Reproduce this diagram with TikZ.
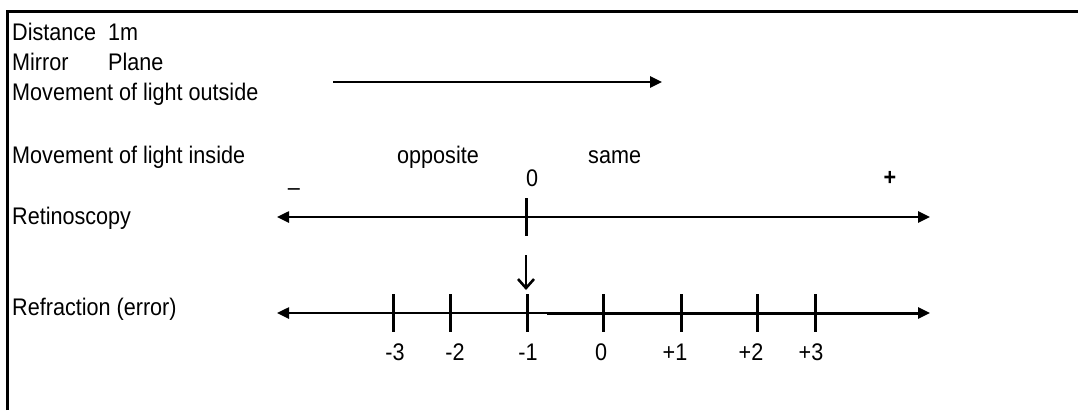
\documentclass[tikz,border=0pt]{standalone}
\usepackage{fontspec}
\setmainfont{Liberation Sans}
\newfontfamily\reffont{Liberation Sans}[FakeStretch=0.9]
\usetikzlibrary{arrows.meta}
\begin{document}
\begin{tikzpicture}[x=1pt,y=-1pt,
  lbl/.style={inner sep=0pt,anchor=base west,font=\reffont\fontsize{24}{28}\selectfont},
  num/.style={inner sep=0pt,anchor=base,font=\reffont\fontsize{24}{28}\selectfont},
  tri/.tip={Triangle[length=12pt,width=11pt]},
  axisline/.style={line width=2.5pt},
  tickline/.style={line width=3pt},
  frameline/.style={line width=3pt}]
\useasboundingbox (0,0) rectangle (1078,410);
% frame
\coordinate (fb) at (7,410);
\coordinate (fc) at (7,11);
\coordinate (fr) at (1078,11);
\draw[frameline] (fb) -- (fc) -- (fr);
% left labels
\node[lbl] (dist) at (12,40) {Distance};
\node[lbl] (onem) at (108,40) {1m};
\node[lbl] (mirror) at (12,70.5) {Mirror};
\node[lbl] (plane) at (108,70.5) {Plane};
\node[lbl] (mout) at (12,100) {Movement of light outside};
\node[lbl] (min) at (12,163) {Movement of light inside};
\node[lbl] (retino) at (12,224) {Retinoscopy};
\node[lbl] (refr) at (12,315) {Refraction (error)};
% outside arrow
\coordinate (oa) at (333,82);
\coordinate (ob) at (662,82);
\draw[axisline,-tri] (oa) -- (ob);
% inside labels
\node[lbl] (opp) at (397,163) {opposite};
\node[lbl] (same) at (588,163) {same};
\node[num] (zero) at (532,186) {0};
\node[num] (minus) at (294,195) {–};
\node[num,font=\reffont\fontsize{24}{28}\selectfont\bfseries] (plus) at (890,185) {+};
% retinoscopy axis
\coordinate (rl) at (277,217);
\coordinate (rr) at (930,217);
\draw[axisline,tri-tri] (rl) -- (rr);
\coordinate (rt1) at (526,198);
\coordinate (rt2) at (526,236);
\draw[tickline] (rt1) -- (rt2);
% down arrow
\coordinate (da) at (526,255);
\coordinate (db) at (526,290);
\draw[line width=2.6pt,-{Straight Barb[length=9pt,width=16pt]}] (da) -- (db);
% refraction axis
\coordinate (fl) at (277,313);
\coordinate (fr2) at (930,313);
\draw[axisline,tri-tri] (fl) -- (fr2);
\coordinate (fm) at (547,313);
\coordinate (fn) at (918,313);
\draw[line width=3pt] (fm) -- (fn);
\foreach \x/\lx/\t/\n in {393/395/-3/a,450/455/-2/b,527/528/-1/c,603/601/0/d,681/675/+1/e,757/751/+2/f,815/811/+3/g}{
  \coordinate (t\n1) at (\x,294);
  \coordinate (t\n2) at (\x,332);
  \draw[tickline] (t\n1) -- (t\n2);
  \node[num] (lab\n) at (\lx,360) {\t};
}
\end{tikzpicture}
\end{document}
